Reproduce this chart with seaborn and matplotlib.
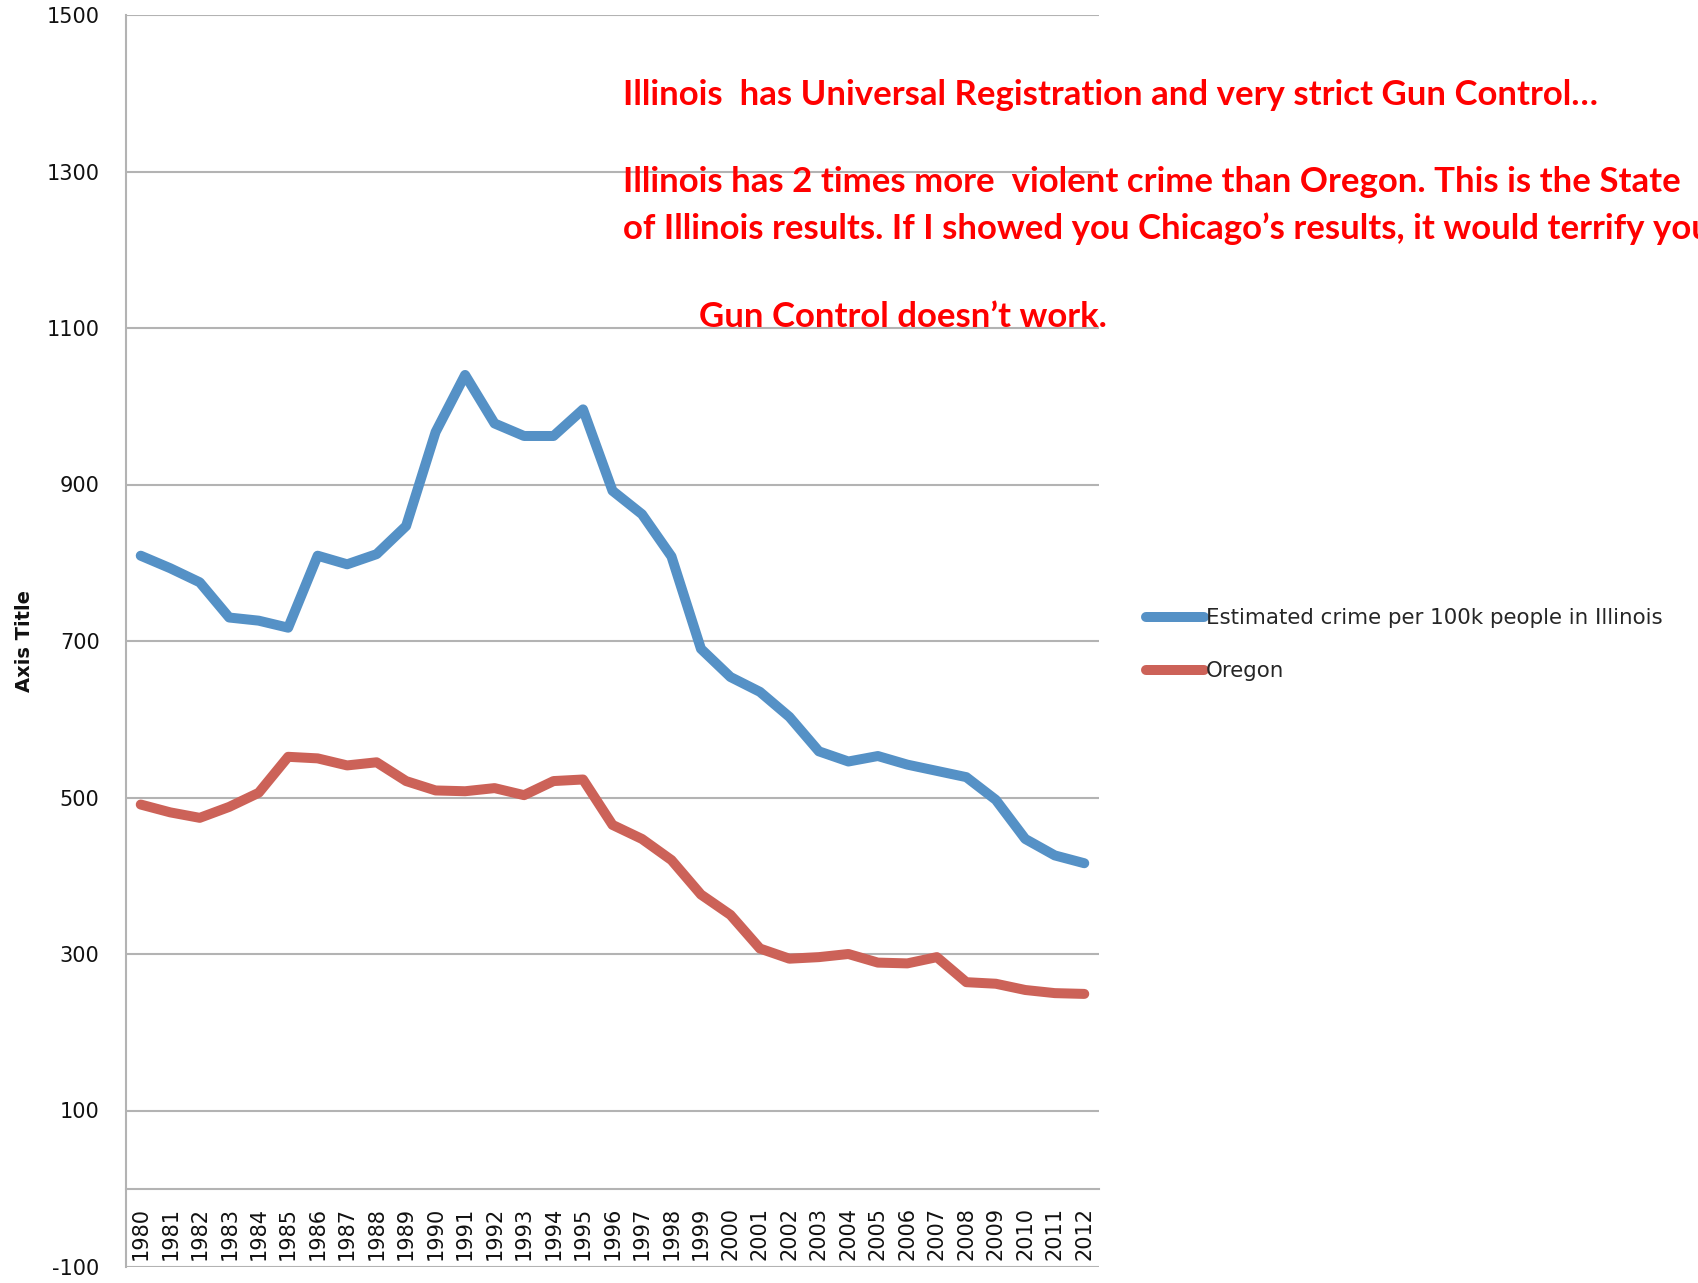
import numpy as np
import pandas as pd
import matplotlib
matplotlib.use("Agg")
import matplotlib.pyplot as plt
from matplotlib.lines import Line2D
import seaborn as sns

# Data
years = list(range(1980, 2013))
illinois = [809, 793, 775, 730, 726, 717, 809, 798, 811, 847,
            967, 1040, 978, 962, 962, 996, 892, 862, 808, 690,
            654, 635, 603, 559, 546, 553, 542, 534, 526, 497,
            447, 426, 416]
oregon = [491, 481, 474, 488, 506, 552, 550, 541, 545, 521,
          509, 508, 512, 503, 521, 523, 465, 447, 420, 376,
          350, 307, 294, 296, 300, 289, 288, 296, 264, 262,
          254, 250, 249]
series_names = ["Estimated crime per 100k people in Illinois", "Oregon"]
y_ticks = list(range(-100, 1501, 200))

notes = [
    "Illinois  has Universal Registration and very strict Gun Control\u2026",
    "Illinois has 2 times more  violent crime than Oregon. This is the State",
    "of Illinois results. If I showed you Chicago\u2019s results, it would terrify you",
    "Gun Control doesn\u2019t work.",
]

df = pd.DataFrame({
    "year": years * 2,
    "value": illinois + oregon,
    "series": [series_names[0]] * len(years) + [series_names[1]] * len(years),
})

sns.set_theme(style="white")
plt.rcParams["font.family"] = ["DejaVu Sans"]

W, H = 1699, 1283
fig = plt.figure(figsize=(W / 100, H / 100), dpi=100)
ax = fig.add_axes([126 / W, 1 - 1267 / H, (1099 - 126) / W, (1267 - 15) / H])

colors = {series_names[0]: "#5591c6", series_names[1]: "#cc6258"}
sns.lineplot(data=df, x="year", y="value", hue="series", palette=colors,
             linewidth=7.2, legend=False, ax=ax,
             solid_capstyle="round", solid_joinstyle="round", zorder=3)

grid_c = "#b3b3b3"
# spines first: moving a spine resets the tick styling
for s in ["top", "right"]:
    ax.spines[s].set_visible(False)
ax.spines["left"].set_color(grid_c)
ax.spines["left"].set_linewidth(1.5)
ax.spines["bottom"].set_position(("data", 0))
ax.spines["bottom"].set_color(grid_c)
ax.spines["bottom"].set_linewidth(1.5)

ax.set_ylim(-100, 1500)
ax.set_xlim(1979.5, 2012.5)
ax.set_yticks(y_ticks)
ax.set_yticklabels([str(t) for t in y_ticks], fontsize=15, color="#111111")
ax.set_xticks(years)
ax.set_xticklabels([str(y) for y in years], rotation=90, fontsize=15, color="#111111")
ax.tick_params(axis="y", length=0, pad=19)
ax.tick_params(axis="x", length=0, pad=13)
ax.grid(axis="y", color=grid_c, linewidth=1.5)
ax.grid(axis="x", visible=False)
ax.set_axisbelow(True)

ax.set_xlabel("")
ax.set_ylabel("")
fig.text(25 / W, 1 - 641 / H, "Axis Title", rotation=90, fontsize=14,
         fontweight="bold", ha="center", va="center", color="#111111")

handles = [Line2D([0], [0], color=colors[n], linewidth=7.2, solid_capstyle="round")
           for n in series_names]
fig.legend(handles, series_names, loc="upper left",
           bbox_to_anchor=(1146 / W, 1 - 608 / H), bbox_transform=fig.transFigure,
           frameon=False, fontsize=15.4, handlelength=2.7, handletextpad=0.1,
           labelspacing=1.55, borderpad=0, borderaxespad=0)

red = "#ff0000"
note_pos = [(623, 105), (623, 192), (623, 239), (699, 327)]
for txt, (x, y) in zip(notes, note_pos):
    fig.text(x / W, 1 - y / H, txt, color=red, fontsize=25, fontweight="bold",
             family=["Lato", "DejaVu Sans"], ha="left", va="baseline")

fig.savefig("out.png", dpi=100)
